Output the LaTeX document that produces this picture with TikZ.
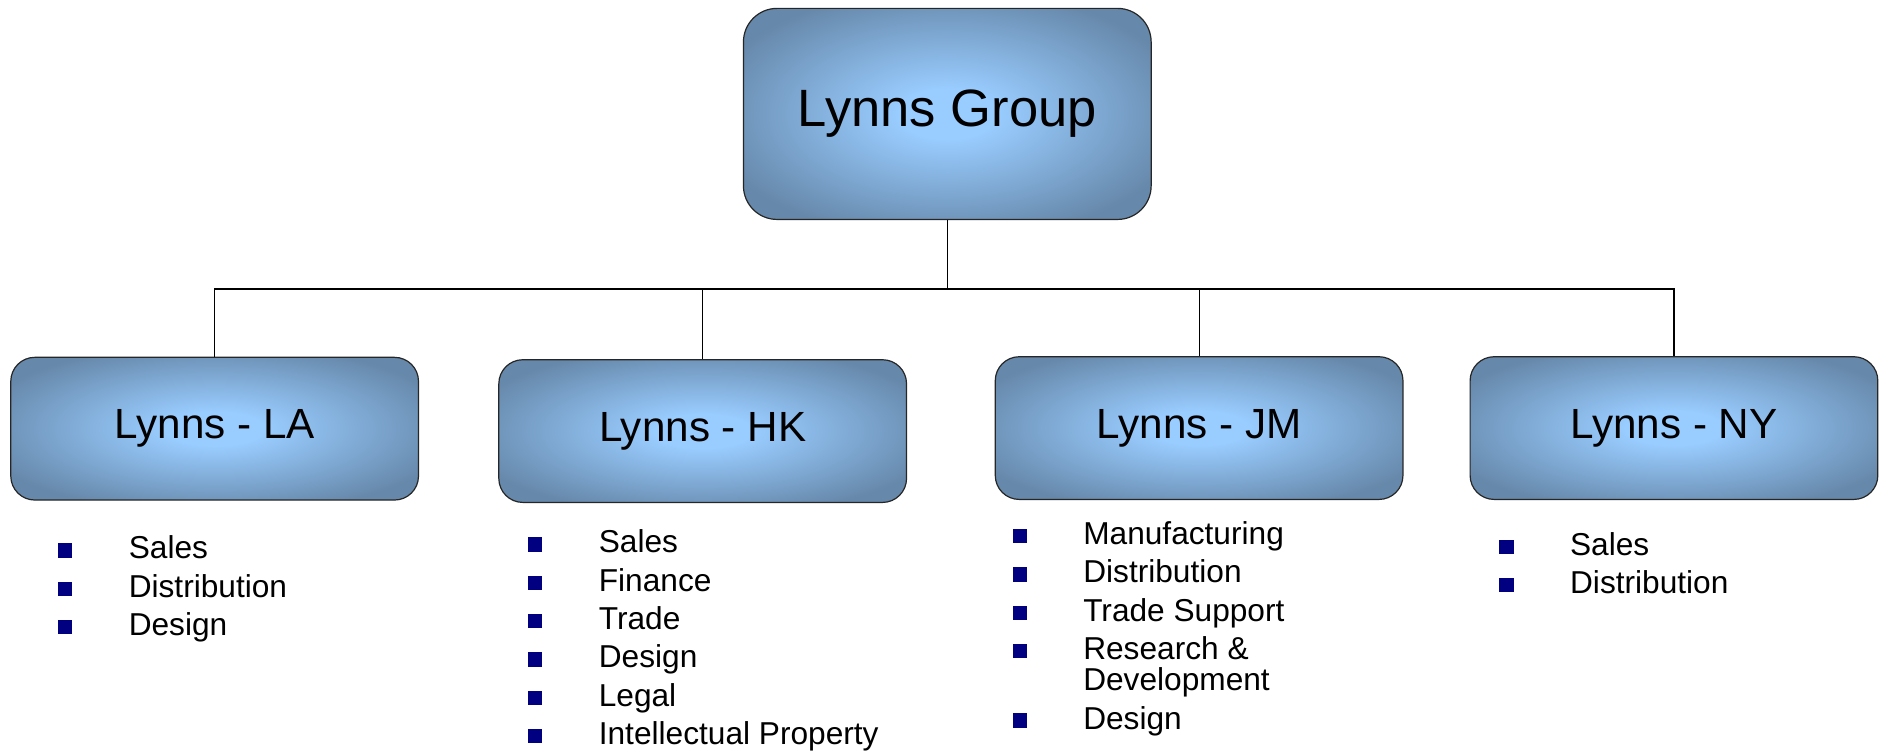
\documentclass[tikz,border=0pt]{standalone}
\usepackage{fontspec}
\setmainfont{Liberation Sans}
\usepackage{tikz}
\usetikzlibrary{positioning}
\usepackage{xcolor}

\definecolor{glowlight}{HTML}{99CCFF}
\definecolor{glowedge}{HTML}{6688AA}
\definecolor{bulletnavy}{HTML}{000080}

\pgfdeclareradialshading{boxglow}{\pgfpoint{0bp}{0bp}}{color(0bp)=(glowlight); color(6bp)=(glowlight); color(30bp)=(glowedge); color(50bp)=(glowedge)}

\newcommand{\itembullet}{\llap{\textcolor{bulletnavy}{\rule[0.5pt]{6pt}{6pt}}\hspace{23.5pt}}}

\tikzset{
    topbox/.style={draw=black!85, line width=0.5pt, rounded corners=14pt, shade, shading=boxglow, minimum width=170pt, minimum height=88pt, inner sep=0pt, font=\fontsize{21.9}{26}\selectfont},
    unitbox/.style={draw=black!85, line width=0.5pt, rounded corners=10pt, shade, shading=boxglow, minimum width=170pt, minimum height=59.5pt, inner sep=0pt, font=\fontsize{17.6}{21}\selectfont},
    duty/.style={anchor=base west, inner sep=0pt, align=left, font=\fontsize{13.2}{13}\selectfont},
    link/.style={draw=black, line width=0.5pt}
}

\begin{document}
\begin{tikzpicture}[x=0.5pt, y=-0.5pt]
    \useasboundingbox (0,0) rectangle (1567,625.5);

    \node[topbox] (group) at (790,95) {Lynns Group};

    \node[unitbox] (la) at (179,357.5) {Lynns - LA};
    \node[unitbox] (hk) at (586,359.5) {Lynns - HK};
    \node[unitbox] (jm) at (1000,357) {Lynns - JM};
    \node[unitbox] (ny) at (1396,357) {Lynns - NY};

    \coordinate (bus) at (790,241);
    \draw[link] (group.south) -- (bus);
    \draw[link] (bus) -| (la.north);
    \draw[link] (bus) -| (hk.north);
    \draw[link] (bus) -| (jm.north);
    \draw[link] (bus) -| (ny.north);

    % LA
    \node[duty] (la1) at (107,466) {\itembullet Sales};
    \node[duty] (la2) at (107,498) {\itembullet Distribution};
    \node[duty] (la3) at (107,530) {\itembullet Design};

    % HK
    \node[duty] (hk1) at (499,461) {\itembullet Sales};
    \node[duty] (hk2) at (499,493) {\itembullet Finance};
    \node[duty] (hk3) at (499,525) {\itembullet Trade};
    \node[duty] (hk4) at (499,557) {\itembullet Design};
    \node[duty] (hk5) at (499,589) {\itembullet Legal};
    \node[duty] (hk6) at (499,621) {\itembullet Intellectual Property};

    % JM (two-line item sits on its last baseline)
    \node[duty] (jm1) at (903,454) {\itembullet Manufacturing};
    \node[duty] (jm2) at (903,486) {\itembullet Distribution};
    \node[duty] (jm3) at (903,518) {\itembullet Trade Support};
    \node[duty] (jm4) at (903,576) {\itembullet Research \&\\Development};
    \node[duty] (jm5) at (903,608) {\itembullet Design};

    % NY
    \node[duty] (ny1) at (1309,463) {\itembullet Sales};
    \node[duty] (ny2) at (1309,495) {\itembullet Distribution};
\end{tikzpicture}
\end{document}
